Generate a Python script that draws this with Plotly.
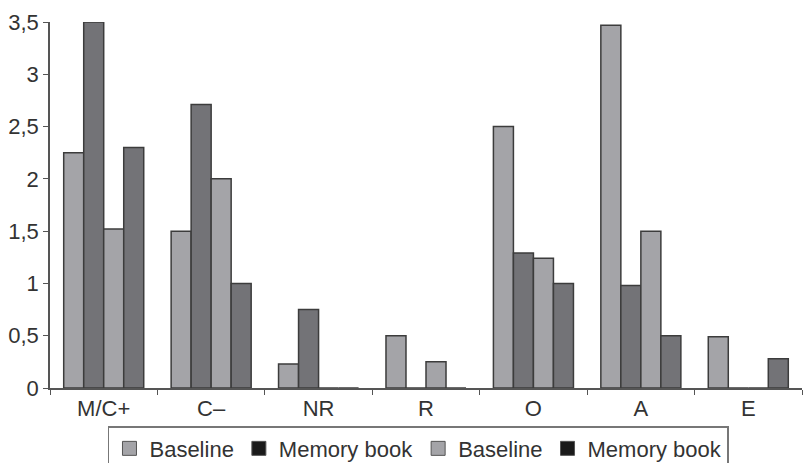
import plotly.graph_objects as go

categories = ["M/C+", "C\u2013", "NR", "R", "O", "A", "E"]
baseline_1 = [2.25, 1.5, 0.23, 0.5, 2.5, 3.47, 0.49]
memory_1 = [3.5, 2.71, 0.75, 0.0, 1.29, 0.98, 0.0]
baseline_2 = [1.52, 2.0, 0.0, 0.25, 1.24, 1.5, 0.0]
memory_2 = [2.3, 1.0, 0.0, 0.0, 1.0, 0.5, 0.28]
series_names = ["Baseline", "Memory book", "Baseline", "Memory book"]
y_ticks = [0, 0.5, 1, 1.5, 2, 2.5, 3, 3.5]

LIGHT = "#a4a4a8"
DARK = "#737377"
OUTLINE = "#3c3c3c"
bar_colors = [LIGHT, DARK, LIGHT, DARK]
legend_colors = [LIGHT, "#1a1a1a", LIGHT, "#1a1a1a"]

fig = go.Figure()
for name, vals, col in zip(series_names, [baseline_1, memory_1, baseline_2, memory_2], bar_colors):
    fig.add_trace(go.Bar(
        x=categories, y=vals, name=name, showlegend=False,
        marker=dict(color=col, line=dict(color=OUTLINE, width=1.5)),
    ))

for name, col in zip(series_names, legend_colors):
    fig.add_trace(go.Scatter(
        x=[None], y=[None], mode="markers", name=name,
        marker=dict(symbol="square", size=14, color=col, line=dict(color="#555", width=1)),
    ))

font_color = "#333333"
fig.update_layout(
    width=812, height=463,
    margin=dict(l=50, r=10, t=22, b=75, autoexpand=False),
    paper_bgcolor="white", plot_bgcolor="white",
    barmode="group", bargap=0.255, bargroupgap=0,
    separators=", ",
    font=dict(family="Liberation Sans, Arial, sans-serif", size=22, color=font_color),
    showlegend=True,
    legend=dict(
        orientation="h", x=0.49, xanchor="center", y=-0.104, yanchor="top",
        bordercolor="#777", borderwidth=1.5, bgcolor="white",
        font=dict(size=22, color=font_color), itemwidth=30,
    ),
    xaxis=dict(
        showline=True, linecolor="#555", linewidth=1.5,
        ticks="outside", tickson="boundaries", ticklen=5, tickcolor="#555",
        showgrid=False, zeroline=False, fixedrange=True,
        tickfont=dict(size=22, color=font_color),
    ),
    yaxis=dict(
        range=[0, 3.5], tickvals=y_ticks,
        showline=True, linecolor="#555", linewidth=1.5,
        ticks="outside", ticklen=5, tickcolor="#555",
        showgrid=False, zeroline=False,
        tickfont=dict(size=22, color=font_color),
    ),
)

fig.write_html("out.html")
